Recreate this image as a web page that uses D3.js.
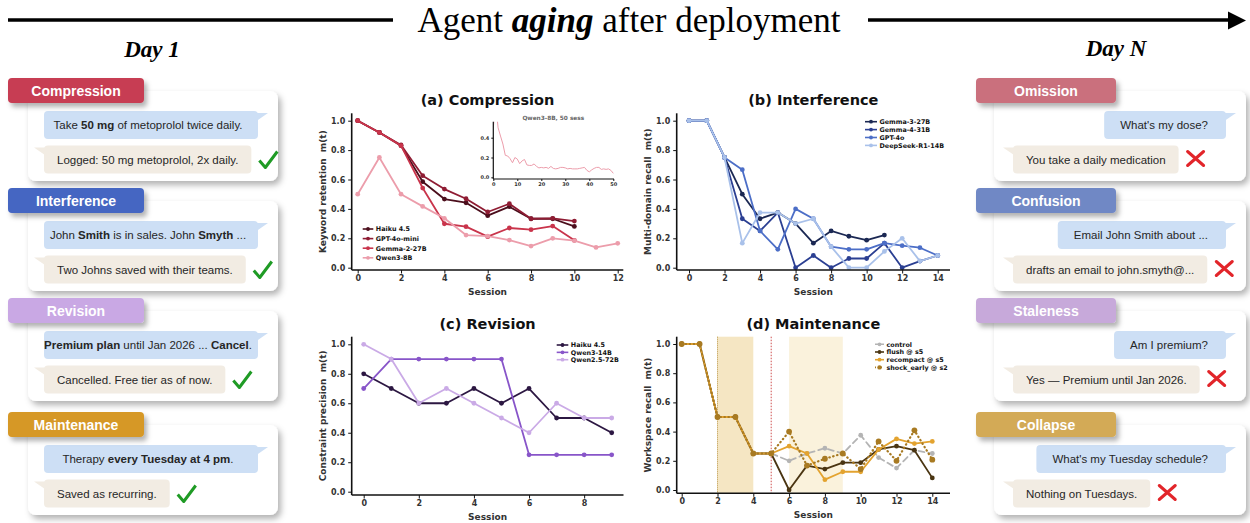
<!DOCTYPE html>
<html>
<head>
<meta charset="utf-8">
<script src="https://cdn.jsdelivr.net/npm/d3@7"></script>
<style>
  body { margin: 0; background: #fff; }
  svg { display: block; }
</style>
</head>
<body>
<div id="fig"></div>
<script>

// ---------- data ----------
// (a) Compression: keyword retention per session
var compHaiku     = [1.0, 0.92, 0.83, 0.585, 0.467, 0.442, 0.354, 0.415, 0.333, 0.333, 0.281]
var compGpt4oMini = [1.0, 0.92, 0.835, 0.626, 0.535, 0.469, 0.379, 0.435, 0.333, 0.336, 0.317]
var compGemma2    = [1.0, 0.92, 0.83, 0.542, 0.299, 0.279, 0.211, 0.27, 0.259, 0.283, 0.186]
var compQwen3     = [0.5, 0.75, 0.5, 0.417, 0.336, 0.222, 0.215, 0.188, 0.147, 0.2, 0.184, 0.138, 0.166]
// inset: Qwen3-8B over 50 sessions
var insetQwen50 = [0.5, 0.75, 0.5, 0.417, 0.336, 0.222, 0.215, 0.188, 0.147, 0.2, 0.184, 0.138, 0.166,
  0.18, 0.125, 0.12, 0.12, 0.135, 0.11, 0.095, 0.1, 0.095, 0.1,
  0.09, 0.11, 0.09, 0.085, 0.09, 0.1, 0.1, 0.095, 0.085, 0.09,
  0.085, 0.085, 0.085, 0.09, 0.095, 0.1, 0.07, 0.055, 0.075, 0.09,
  0.1, 0.1, 0.08, 0.085, 0.08, 0.085, 0.07, 0.04]

// (b) Interference: multi-domain recall
var intGemma3   = [1, 1, 0.75, 0.5, 0.333, 0.375, 0.3, 0.167, 0.25, 0.214, 0.1875, 0.222]
var intGemma4   = [1, 1, 0.75, 0.333, 0.25, 0.375, 0, 0.083, 0, 0.0625, 0.0625, 0.167, 0, 0.045, 0.083]
var intGpt4o    = [1, 1, 0.75, 0.667, 0.25, 0.125, 0.4, 0.333, 0.143, 0.125, 0.125, 0.167, 0.15, 0.136, 0.083]
var intDeepseek = [1, 1, 0.75, 0.167, 0.375, 0.375, 0.3, 0.333, 0.143, 0, 0, 0.111, 0.2, 0.045, 0.083]

// (c) Revision: constraint precision
var revHaiku   = [0.8, 0.7, 0.6, 0.6, 0.7, 0.6, 0.7, 0.5, 0.5, 0.4]
var revQwen3   = [0.7, 0.9, 0.9, 0.9, 0.9, 0.9, 0.25, 0.25, 0.25, 0.25]
var revQwen25  = [1.0, 0.9, 0.6, 0.7, 0.6, 0.5, 0.4, 0.6, 0.5, 0.5]

// (d) Maintenance: workspace recall
var mainControl    = [1, 1, 0.5, 0.5, 0.25, 0.25, 0.2, 0.25, 0.286, 0.25, 0.375, 0.222, 0.15, 0.273, 0.25]
var mainFlush      = [1, 1, 0.5, 0.5, 0.25, 0.25, 0, 0.167, 0.143, 0.1875, 0.1875, 0.278, 0.3, 0.273, 0.083]
var mainRecompact  = [1, 1, 0.5, 0.5, 0.25, 0.25, 0.3, 0.25, 0.071, 0.125, 0.125, 0.278, 0.35, 0.318, 0.333]
var mainShockEarly = [1, 1, 0.5, 0.5, 0.25, 0.25, 0.4, 0.167, 0.214, 0.25, 0.143, 0.333, 0.2, 0.409, 0.208]
var mainSpanStrong = [2, 4]
var mainSpanLight  = [6, 9]
var mainEvent      = 5

// tick labels
var yTicks = [0, 0.2, 0.4, 0.6, 0.8, 1.0]
var xTicksA = [0, 2, 4, 6, 8, 10, 12]
var xTicksB = [0, 2, 4, 6, 8, 10, 12, 14]
var xTicksC = [0, 2, 4, 6, 8]
var insetXTicks = [0, 10, 20, 30, 40, 50]
var insetYTicks = [0, 0.2, 0.4]

// cards
var day1Labels = ['Compression', 'Interference', 'Revision', 'Maintenance']
var day1Prompts = [
  [['Take ', 0], ['50 mg', 1], [' of metoprolol twice daily.', 0]],
  [['John ', 0], ['Smith', 1], [' is in sales. John ', 0], ['Smyth', 1], [' ...', 0]],
  [['Premium plan', 1], [' until Jan 2026 ... ', 0], ['Cancel', 1], ['.', 0]],
  [['Therapy ', 0], ['every Tuesday at 4 pm', 1], ['.', 0]]
]
var day1Replies = ['Logged: 50 mg metoprolol, 2x daily.', 'Two Johns saved with their teams.',
  'Cancelled. Free tier as of now.', 'Saved as recurring.']
var dayNLabels = ['Omission', 'Confusion', 'Staleness', 'Collapse']
var dayNPrompts = ["What's my dose?", 'Email John Smith about ...', 'Am I premium?', "What's my Tuesday schedule?"]
var dayNReplies = ['You take a daily medication', 'drafts an email to john.smyth@...',
  'Yes \u2014 Premium until Jan 2026.', 'Nothing on Tuesdays.']

// ---------- style ----------
var leftTabColors  = ['#c73e52', '#4566c2', '#c9a8e4', '#d69828']
var rightTabColors = ['#ca6f7d', '#7088c5', '#c7a9da', '#d3aa57']
var plotFont = 'DejaVu Sans'
var cardFont = 'Liberation Sans, Arial, sans-serif'

var W = 1250, H = 523

var svg = d3.select('#fig').append('svg')
  .attr('width', W)
  .attr('height', H)

var defs = svg.append('defs')
var f1 = defs.append('filter').attr('id', 'cardShadow')
  .attr('x', '-10%').attr('y', '-15%').attr('width', '125%').attr('height', '140%')
f1.append('feDropShadow').attr('dx', 3).attr('dy', 4).attr('stdDeviation', 3)
  .attr('flood-color', '#000').attr('flood-opacity', 0.3)
var f2 = defs.append('filter').attr('id', 'tabShadow')
  .attr('x', '-10%').attr('y', '-30%').attr('width', '125%').attr('height', '180%')
f2.append('feDropShadow').attr('dx', 3).attr('dy', 4).attr('stdDeviation', 2.5)
  .attr('flood-color', '#000').attr('flood-opacity', 0.3)

// ---------- header ----------
svg.append('line')
  .attr('x1', 8).attr('x2', 393).attr('y1', 20).attr('y2', 20)
  .attr('stroke', '#000').attr('stroke-width', 3.5)
svg.append('line')
  .attr('x1', 868).attr('x2', 1232).attr('y1', 20).attr('y2', 20)
  .attr('stroke', '#000').attr('stroke-width', 3.5)
svg.append('path')
  .attr('d', 'M1228,11.5 L1246,20.5 L1228,29.5 Z')
  .attr('fill', '#000')

var title = svg.append('text')
  .attr('x', 629).attr('y', 32)
  .attr('text-anchor', 'middle')
  .attr('font-family', 'Liberation Serif, Times New Roman, serif')
  .attr('font-size', 35)
title.append('tspan').text('Agent ')
title.append('tspan').attr('font-weight', 'bold').attr('font-style', 'italic').text('aging')
title.append('tspan').text(' after deployment')

svg.append('text')
  .attr('x', 152).attr('y', 57)
  .attr('text-anchor', 'middle')
  .attr('font-family', 'Liberation Serif, serif')
  .attr('font-weight', 'bold').attr('font-style', 'italic')
  .attr('font-size', 23)
  .text('Day 1')
svg.append('text')
  .attr('x', 1116).attr('y', 56)
  .attr('text-anchor', 'middle')
  .attr('font-family', 'Liberation Serif, serif')
  .attr('font-weight', 'bold').attr('font-style', 'italic')
  .attr('font-size', 23)
  .text('Day N')

// ---------- cards ----------
var rowTops = [78, 188, 298, 412]

function checkMark(g, cx, cy) {
  g.append('path')
    .attr('d', 'M' + (cx - 9) + ',' + (cy + 1) + ' L' + (cx - 3) + ',' + (cy + 8) + ' L' + (cx + 9) + ',' + (cy - 8))
    .attr('fill', 'none').attr('stroke', '#1f9b25').attr('stroke-width', 3)
    .attr('stroke-linejoin', 'round')
}

function crossMark(g, cx, cy) {
  g.append('path')
    .attr('d', 'M' + (cx - 8) + ',' + (cy - 7) + ' L' + (cx + 8) + ',' + (cy + 7) +
               ' M' + (cx + 8) + ',' + (cy - 7) + ' L' + (cx - 8) + ',' + (cy + 7))
    .attr('fill', 'none').attr('stroke', '#e2252a').attr('stroke-width', 3)
    .attr('stroke-linecap', 'round')
}

function drawCard(side, i) {
  var left = side === 'left'
  var tabTop = rowTops[i]
  var tabX = left ? 8 : 976
  var tabW = left ? 136 : 140
  var cardX = left ? 28 : 994
  var cardW = left ? 250 : 252
  var cardTop = tabTop + 13
  var g = svg.append('g')

  g.append('rect')
    .attr('x', cardX).attr('y', cardTop)
    .attr('width', cardW).attr('height', 90)
    .attr('rx', 8)
    .attr('fill', '#fff')
    .attr('filter', 'url(#cardShadow)')

  // user bubble (blue)
  var by = cardTop + 20, bh = 28
  var blue = g.append('rect').attr('y', by).attr('height', bh).attr('rx', 4).attr('fill', '#cddff5')
  var blueTail = g.append('path').attr('fill', '#cddff5')
  var t1 = g.append('text')
    .attr('y', by + 18)
    .attr('font-family', cardFont).attr('font-size', 11.5).attr('fill', '#262626')
  var bx, bw
  if (left) {
    day1Prompts[i].forEach(function(seg) {
      t1.append('tspan').attr('font-weight', seg[1] ? 'bold' : 'normal').text(seg[0])
    })
    bx = 44; bw = 214
    t1.attr('x', bx + bw / 2 - 3).attr('text-anchor', 'middle')
  } else {
    t1.text(dayNPrompts[i])
    var w = t1.node().getComputedTextLength()
    bw = w + 34
    bx = 1226 - bw
    t1.attr('x', bx + 16)
  }
  blue.attr('x', bx).attr('width', bw)
  blueTail.attr('d', 'M' + (bx + bw - 6) + ',' + (by + 2) + ' L' + (bx + bw + 10) + ',' + (by + 2) +
    ' L' + (bx + bw - 6) + ',' + (by + 13) + ' Z')

  // reply bubble (beige)
  var ry = cardTop + 54.5
  var beige = g.append('rect').attr('y', ry).attr('height', bh).attr('rx', 4).attr('fill', '#f2ece3')
  var beigeTail = g.append('path').attr('fill', '#f2ece3')
  var rx = left ? 44 : 1013
  var t2 = g.append('text')
    .attr('x', rx + 13).attr('y', ry + 18)
    .attr('font-family', cardFont).attr('font-size', 11.5).attr('fill', '#262626')
    .text(left ? day1Replies[i] : dayNReplies[i])
  var rw = t2.node().getComputedTextLength() + 26
  beige.attr('x', rx).attr('width', rw)
  beigeTail.attr('d', 'M' + (rx + 6) + ',' + (ry + 2) + ' L' + (rx - 10) + ',' + (ry + 2) +
    ' L' + (rx + 6) + ',' + (ry + 13) + ' Z')
  if (left) checkMark(g, rx + rw + 17, ry + 14)
  else crossMark(g, rx + rw + 17, ry + 13)

  // tab
  g.append('rect')
    .attr('x', tabX).attr('y', tabTop)
    .attr('width', tabW).attr('height', 25)
    .attr('rx', 4)
    .attr('fill', left ? leftTabColors[i] : rightTabColors[i])
    .attr('filter', 'url(#tabShadow)')
  g.append('text')
    .attr('x', tabX + tabW / 2).attr('y', tabTop + 17.5)
    .attr('text-anchor', 'middle')
    .attr('font-family', cardFont).attr('font-weight', 'bold').attr('font-size', 14)
    .attr('fill', '#fff')
    .text(left ? day1Labels[i] : dayNLabels[i])
}

for (var i = 0; i < 4; i++) {
  drawCard('left', i)
  drawCard('right', i)
}

// ---------- chart panels ----------
function styleAxis(sel, size) {
  sel.select('.domain').remove()
  sel.selectAll('.tick line').attr('stroke', '#111').attr('stroke-width', 1)
  sel.selectAll('.tick text')
    .attr('font-family', plotFont).attr('font-weight', 'bold')
    .attr('font-size', size).attr('fill', '#333')
}

function panel(p) {
  var g = svg.append('g')
  var x = d3.scaleLinear().domain(p.xd).range(p.xr)
  var y = d3.scaleLinear().domain([0, 1]).range(p.yr)

  if (p.before) p.before(g, x, y)

  // series
  p.series.forEach(function(s) {
    var line = d3.line()
      .x(function(d, i) { return x(i) })
      .y(function(d) { return y(d) })
    g.append('path')
      .datum(s.values)
      .attr('d', line)
      .attr('fill', 'none')
      .attr('stroke', s.color)
      .attr('stroke-width', s.width || 1.8)
      .attr('stroke-dasharray', s.dash || null)
      .attr('stroke-linecap', s.dash ? 'round' : 'butt')
      .attr('stroke-linejoin', 'round')
    g.selectAll(null)
      .data(s.values)
      .enter().append('circle')
      .attr('cx', function(d, i) { return x(i) })
      .attr('cy', function(d) { return y(d) })
      .attr('r', s.r || 2.4)
      .attr('fill', s.color)
  })

  // spines
  g.append('line')
    .attr('x1', p.left).attr('x2', p.left).attr('y1', p.top).attr('y2', p.bottom)
    .attr('stroke', '#111').attr('stroke-width', 1.6)
  g.append('line')
    .attr('x1', p.left).attr('x2', p.right).attr('y1', p.bottom).attr('y2', p.bottom)
    .attr('stroke', '#111').attr('stroke-width', 1.6)

  var xAxis = d3.axisBottom(x).tickValues(p.xt).tickSize(3.5).tickPadding(2).tickFormat(d3.format('d'))
  g.append('g').attr('transform', 'translate(0,' + p.bottom + ')').call(xAxis).call(styleAxis, 8)
  var yAxis = d3.axisLeft(y).tickValues(yTicks).tickSize(3.5).tickPadding(3).tickFormat(d3.format('.1f'))
  g.append('g').attr('transform', 'translate(' + p.left + ',0)').call(yAxis).call(styleAxis, 8)

  // title and labels
  g.append('text')
    .attr('x', (p.left + p.right) / 2).attr('y', p.titleY)
    .attr('text-anchor', 'middle')
    .attr('font-family', plotFont).attr('font-weight', 'bold').attr('font-size', 14.5)
    .attr('fill', '#111')
    .text(p.title)
  g.append('text')
    .attr('x', (p.left + p.right) / 2).attr('y', p.bottom + 24.5)
    .attr('text-anchor', 'middle')
    .attr('font-family', plotFont).attr('font-weight', 'bold').attr('font-size', 9)
    .attr('fill', '#333')
    .text('Session')
  var cy = (p.top + p.bottom) / 2
  g.append('text')
    .attr('transform', 'translate(' + (p.left - 26) + ',' + cy + ') rotate(-90)')
    .attr('text-anchor', 'middle')
    .attr('font-family', plotFont).attr('font-weight', 'bold').attr('font-size', 9)
    .attr('fill', '#333')
    .attr('xml:space', 'preserve')
    .style('white-space', 'pre')
    .text(p.ylabel)

  // legend
  var lg = p.legend
  p.series.forEach(function(s, k) {
    var ly = lg.y + k * lg.dy
    g.append('line')
      .attr('x1', lg.x).attr('x2', lg.x + lg.len).attr('y1', ly).attr('y2', ly)
      .attr('stroke', s.color).attr('stroke-width', 1.6)
      .attr('stroke-dasharray', s.legendDash || null)
    g.append('circle')
      .attr('cx', lg.x + lg.len / 2).attr('cy', ly).attr('r', s.r ? 2.2 : 1.9)
      .attr('fill', s.color)
    g.append('text')
      .attr('x', lg.x + lg.len + 2.5).attr('y', ly + 2.3)
      .attr('font-family', plotFont).attr('font-weight', 'bold').attr('font-size', 6.4)
      .attr('fill', '#111')
      .text(s.name)
  })

  if (p.after) p.after(g, x, y)
}

// (a)
panel({
  left: 351.7, right: 623.3, top: 113.3, bottom: 270,
  xd: [0, 12], xr: [357.7, 617.7], yr: [267.7, 120.7],
  xt: xTicksA, titleY: 105,
  title: '(a) Compression', ylabel: 'Keyword retention  m(t)',
  series: [
    { name: 'Haiku 4.5', values: compHaiku, color: '#4b0e1c' },
    { name: 'GPT-4o-mini', values: compGpt4oMini, color: '#8f1c33' },
    { name: 'Gemma-2-27B', values: compGemma2, color: '#c9344b' },
    { name: 'Qwen3-8B', values: compQwen3, color: '#ec9dab' }
  ],
  legend: { x: 362.7, y: 229, dy: 9.6, len: 10.6 },
  after: function(g) {
    // inset
    var ix = d3.scaleLinear().domain([0, 50]).range([493.3, 613.3])
    var iy = d3.scaleLinear().domain([0, 0.4]).range([177.3, 137.7])
    defs.append('clipPath').attr('id', 'insetClip')
      .append('rect').attr('x', 493.3).attr('y', 121.7).attr('width', 121).attr('height', 58)
    g.append('path')
      .datum(insetQwen50)
      .attr('clip-path', 'url(#insetClip)')
      .attr('d', d3.line().x(function(d, i) { return ix(i) }).y(function(d) { return iy(d) }))
      .attr('fill', 'none').attr('stroke', '#ec9dab').attr('stroke-width', 1)
    g.append('line').attr('x1', 493.3).attr('x2', 493.3).attr('y1', 121.7).attr('y2', 179)
      .attr('stroke', '#111').attr('stroke-width', 1.2)
    g.append('line').attr('x1', 493.3).attr('x2', 614).attr('y1', 179).attr('y2', 179)
      .attr('stroke', '#111').attr('stroke-width', 1.2)
    g.append('g').attr('transform', 'translate(0,179)')
      .call(d3.axisBottom(ix).tickValues(insetXTicks).tickSize(2).tickPadding(1.5))
      .call(styleAxis, 5)
    g.append('g').attr('transform', 'translate(493.3,0)')
      .call(d3.axisLeft(iy).tickValues(insetYTicks).tickSize(2).tickPadding(2).tickFormat(d3.format('.1f')))
      .call(styleAxis, 5)
    g.append('text')
      .attr('x', 553.3).attr('y', 120)
      .attr('text-anchor', 'middle')
      .attr('font-family', plotFont).attr('font-weight', 'bold').attr('font-size', 5.8)
      .attr('fill', '#666')
      .text('Qwen3-8B, 50 sess')
  }
})

// (b)
panel({
  left: 676.7, right: 950, top: 113.3, bottom: 270,
  xd: [0, 14], xr: [689, 937.7], yr: [267.7, 120.7],
  xt: xTicksB, titleY: 105,
  title: '(b) Interference', ylabel: 'Multi-domain recall  m(t)',
  series: [
    { name: 'Gemma-3-27B', values: intGemma3, color: '#1b2853' },
    { name: 'Gemma-4-31B', values: intGemma4, color: '#2b3f92' },
    { name: 'GPT-4o', values: intGpt4o, color: '#4c6ec7' },
    { name: 'DeepSeek-R1-14B', values: intDeepseek, color: '#a9c1ea' }
  ],
  legend: { x: 865, y: 121.7, dy: 7.9, len: 12 }
})

// (c)
panel({
  left: 351.7, right: 623.5, top: 336.7, bottom: 495,
  xd: [0, 9], xr: [363.7, 611.7], yr: [491.7, 344.3],
  xt: xTicksC, titleY: 328.7,
  title: '(c) Revision', ylabel: 'Constraint precision  m(t)',
  series: [
    { name: 'Haiku 4.5', values: revHaiku, color: '#2c1742' },
    { name: 'Qwen3-14B', values: revQwen3, color: '#8855c9' },
    { name: 'Qwen2.5-72B', values: revQwen25, color: '#caaae6' }
  ],
  legend: { x: 556.7, y: 345, dy: 7.35, len: 11.6 }
})

// (d)
panel({
  left: 676.7, right: 950, top: 336.7, bottom: 493.3,
  xd: [0, 14], xr: [681.7, 932.3], yr: [490, 344],
  xt: xTicksB, titleY: 328.7,
  title: '(d) Maintenance', ylabel: 'Workspace recall  m(t)',
  series: [
    { name: 'control', values: mainControl, color: '#b4b4b4', dash: '6,4', legendDash: '4,2' },
    { name: 'flush @ s5', values: mainFlush, color: '#4a3512' },
    { name: 'recompact @ s5', values: mainRecompact, color: '#e3a32f' },
    { name: 'shock_early @ s2', values: mainShockEarly, color: '#a87a22', dash: '0.5,3.5', legendDash: '1,2', r: 2.9, width: 2.2 }
  ],
  legend: { x: 875, y: 344.3, dy: 7.7, len: 9 },
  before: function(g, x, y) {
    g.append('rect')
      .attr('x', x(mainSpanStrong[0])).attr('y', 336.7)
      .attr('width', x(mainSpanStrong[1]) - x(mainSpanStrong[0])).attr('height', 493.3 - 336.7)
      .attr('fill', '#f5e6c3')
    g.append('rect')
      .attr('x', x(mainSpanLight[0])).attr('y', 336.7)
      .attr('width', x(mainSpanLight[1]) - x(mainSpanLight[0])).attr('height', 493.3 - 336.7)
      .attr('fill', '#faf2dc')
    g.append('line')
      .attr('x1', x(mainSpanStrong[0])).attr('x2', x(mainSpanStrong[0]))
      .attr('y1', 336.7).attr('y2', 493.3)
      .attr('stroke', '#b8923e').attr('stroke-width', 1).attr('stroke-dasharray', '1,1')
    g.append('line')
      .attr('x1', x(mainEvent)).attr('x2', x(mainEvent))
      .attr('y1', 336.7).attr('y2', 493.3)
      .attr('stroke', '#c83a3a').attr('stroke-width', 0.9).attr('stroke-dasharray', '1.5,1.5')
  }
})

</script>
</body>
</html>
